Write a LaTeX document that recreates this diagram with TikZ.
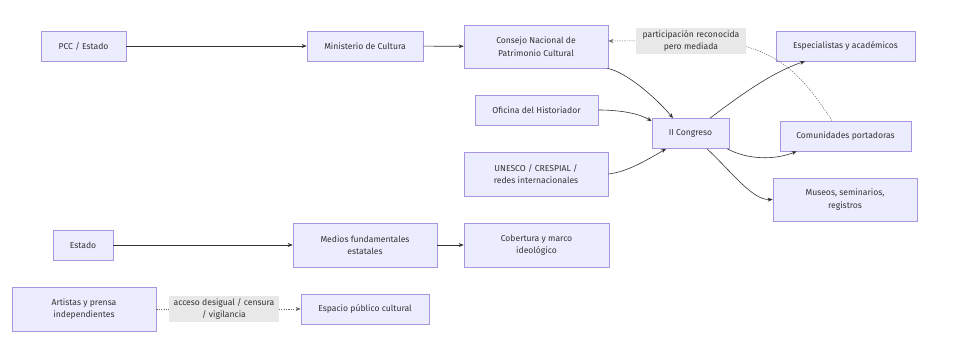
\documentclass[tikz,border=0pt]{standalone}
\usepackage{fontspec}
\setmainfont{Fira Sans}
\usetikzlibrary{arrows.meta}
\definecolor{nodefill}{HTML}{ECECFF}
\definecolor{nodeborder}{HTML}{A996E0}
\definecolor{edgecol}{HTML}{333333}
\definecolor{dotcol}{HTML}{666666}
\definecolor{labfill}{HTML}{E8E8E8}
\tikzset{
  box/.style={draw=nodeborder, fill=nodefill, line width=0.7pt, align=center,
    inner sep=0pt, text=edgecol, font=\fontsize{8.6}{12.6}\selectfont},
  lab/.style={fill=labfill, draw=none, align=center, inner sep=0pt,
    text=edgecol, font=\fontsize{8.6}{12.6}\selectfont},
  conn/.style={draw=edgecol, line width=0.6pt, -{Stealth[length=5pt,width=4pt]}},
  dconn/.style={draw=dotcol, line width=0.5pt, dash pattern=on 1.2pt off 1.2pt,
    -{Stealth[length=5pt,width=4pt]}},
}
\begin{document}
\begin{tikzpicture}[x=1pt,y=-1pt]
\useasboundingbox[fill=white] (0,0) rectangle (960,350);
% nodes
\node[box, minimum width=85pt, minimum height=30pt] (pcc) at (83.5,46) {PCC / Estado};
\node[box, minimum width=116pt, minimum height=30pt] (min) at (365,46) {Ministerio de Cultura};
\node[box, minimum width=144pt, minimum height=43pt] (cnpc) at (536,46.5) {Consejo Nacional de\\Patrimonio Cultural};
\node[box, minimum width=139pt, minimum height=30pt] (esp) at (845.5,46) {Especialistas y académicos};
\node[box, minimum width=123pt, minimum height=30pt] (ofi) at (536.5,110) {Oficina del Historiador};
\node[box, minimum width=77pt, minimum height=30pt] (ii) at (690.5,133.5) {II Congreso};
\node[box, minimum width=131pt, minimum height=30pt] (com) at (845.5,136) {Comunidades portadoras};
\node[box, minimum width=144pt, minimum height=44pt] (une) at (536,174) {UNESCO / CRESPIAL /\\redes internacionales};
\node[box, minimum width=144pt, minimum height=43pt] (mus) at (845,199.5) {Museos, seminarios,\\registros};
\node[box, minimum width=60pt, minimum height=30pt] (est) at (83,245) {Estado};
\node[box, minimum width=144pt, minimum height=44pt] (med) at (365,245) {Medios fundamentales\\estatales};
\node[box, minimum width=145pt, minimum height=44pt] (cob) at (536.5,245) {Cobertura y marco\\ideológico};
\node[box, minimum width=144pt, minimum height=44pt] (art) at (84,309) {Artistas y prensa\\independientes};
\node[box, minimum width=128pt, minimum height=30pt] (esc) at (365,309) {Espacio público cultural};
% edges
\draw[conn] (pcc) -- (min);
\draw[conn] (min) -- (cnpc);
\draw[conn] ([xshift=-1pt]cnpc.south east) .. controls (627,72) and (658,100) .. ([xshift=-17.5pt]ii.north);
\draw[conn] (ofi.east) .. controls (622,110) and (640,114) .. ([yshift=-3pt]ii.north west);
\draw[conn] (une.east) .. controls (627,172) and (647,160) .. ([xshift=-24.5pt]ii.south);
\draw[conn] ([xshift=19.5pt]ii.north) .. controls (738,97) and (772,72) .. ([xshift=-40.5pt]esp.south);
\draw[conn] ([xshift=-2pt]ii.south east) .. controls (748,160) and (775,160) .. ([xshift=17pt]com.south west);
\draw[conn] ([xshift=16.5pt]ii.south) .. controls (732,172) and (752,200) .. (mus.west);
\draw[dconn] ([xshift=-13.5pt]com.north) .. controls (805,80) and (778,41) .. (700,41) -- ([yshift=5.5pt]cnpc.east);
\node[lab, minimum width=110pt, minimum height=26pt] (l1) at (691,41) {participación reconocida\\pero mediada};
\draw[conn] (est) -- (med);
\draw[conn] (med) -- (cob);
\draw[dconn] (art) -- (esc);
\node[lab, minimum width=110pt, minimum height=26pt] (l2) at (224,309) {acceso desigual / censura\\/ vigilancia};
\end{tikzpicture}
\end{document}
